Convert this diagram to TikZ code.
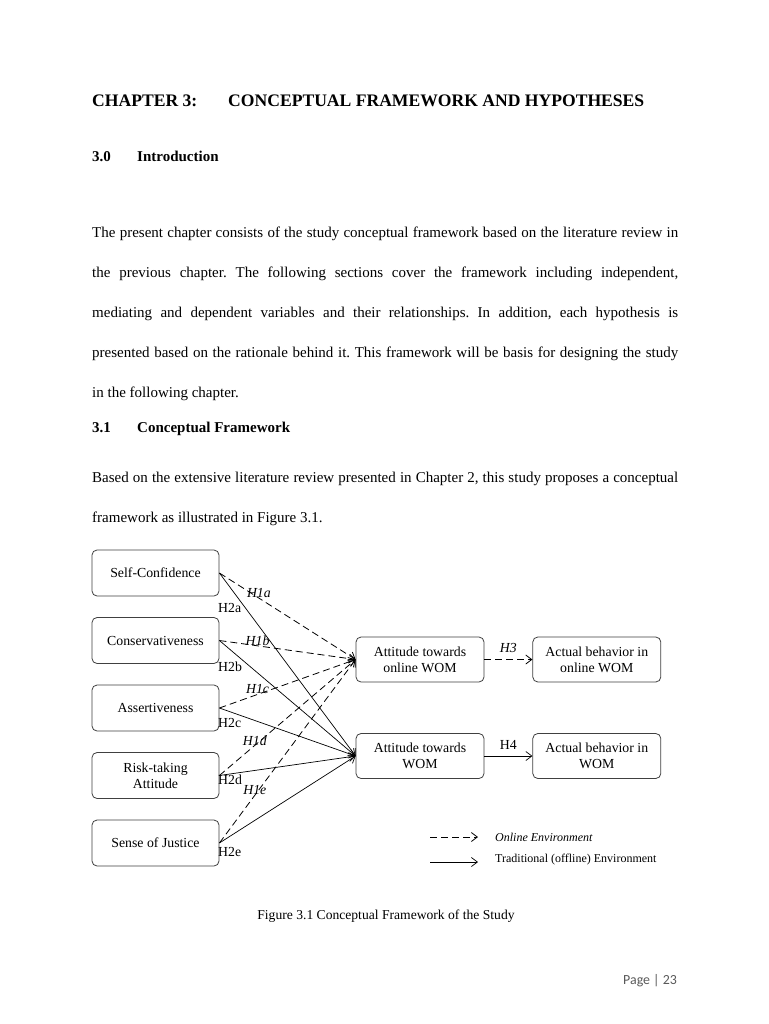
\documentclass[tikz,border=0pt]{standalone}
\usepackage{fontspec}
\setmainfont{Liberation Serif}
\newfontfamily\pagefont{Carlito}
\usetikzlibrary{positioning,arrows.meta}
\frenchspacing
\tikzset{varbox/.style={draw=black!75, rounded corners=5pt, line width=.8pt,
         minimum width=127pt, minimum height=46pt, align=center,
         font=\fontsize{13.8}{16}\selectfont, inner sep=1pt},
         online/.style={-{Straight Barb[length=6pt,width=9pt]}, dash pattern=on 7pt off 4pt, line width=.8pt},
         offline/.style={-{Straight Barb[length=6pt,width=9pt]}, line width=.7pt},
         hyp/.style={font=\fontsize{13.8}{16}\selectfont\itshape, inner sep=1pt, yshift=5pt},
         hyptwo/.style={font=\fontsize{13.8}{16}\selectfont, inner sep=1pt, anchor=west},
         bodytext/.style={anchor=base west, inner sep=0pt, font=\fontsize{15}{40}\selectfont}}

\begin{document}
\begin{tikzpicture}[x=1pt,y=-1pt]
      \useasboundingbox[fill=white] (0,0) rectangle (768,1024);

      % headings and text
      \node[bodytext, font=\fontsize{17.6}{20}\selectfont\bfseries] (chap) at (92,107) {CHAPTER 3:};
      \node[bodytext, font=\fontsize{17.6}{20}\selectfont\bfseries] (chaptitle) at (228,107) {CONCEPTUAL FRAMEWORK AND HYPOTHESES};
      \node[bodytext, font=\fontsize{15}{18}\selectfont\bfseries] (secnum) at (92,162) {3.0};
      \node[bodytext, font=\fontsize{15}{18}\selectfont\bfseries] (sectitle) at (137,162) {Introduction};
      \node[bodytext, anchor=north west, text width=586pt, align=justify] (intro) at (92,226.5)
        {The present chapter consists of the study conceptual framework based on the literature review in\linebreak
         the previous chapter. The following sections cover the framework including independent,\linebreak
         mediating and dependent variables and their relationships. In addition, each hypothesis is\linebreak
         presented based on the rationale behind it. This framework will be basis for designing the study\linebreak
         in the following chapter.};
      \node[bodytext, font=\fontsize{15}{18}\selectfont\bfseries] (subnum) at (92,432) {3.1};
      \node[bodytext, font=\fontsize{15}{18}\selectfont\bfseries] (subtitle) at (137,432) {Conceptual Framework};
      \node[bodytext, anchor=north west, text width=586pt, align=justify] (based) at (92,471.5)
        {Based on the extensive literature review presented in Chapter 2, this study proposes a conceptual\linebreak
         framework as illustrated in Figure 3.1.};

      % independent variables
      \node[varbox] (selfconf) at (155.5,573) {Self-Confidence};
      \node[varbox, below=20.7pt of selfconf] (conserv) {Conservativeness};
      \node[varbox, below=20.7pt of conserv] (assert) {Assertiveness};
      \node[varbox, below=20.7pt of assert] (risk) {Risk-taking\\Attitude};
      \node[varbox, below=20.7pt of risk] (justice) {Sense of Justice};

      % mediating and dependent variables
      \node[varbox, minimum width=128pt, minimum height=45pt] (attonline) at (420,659.5) {Attitude towards\\online WOM};
      \node[varbox, minimum width=128pt, minimum height=45pt] (attwom) at (420,756) {Attitude towards\\WOM};
      \node[varbox, minimum width=128pt, minimum height=45pt, right=48pt of attonline] (behonline) {Actual behavior in\\online WOM};
      \node[varbox, minimum width=128pt, minimum height=45pt, right=48pt of attwom] (behwom) {Actual behavior in\\WOM};

      % H1: online paths
      \draw[online] (selfconf.east) -- node[hyp, pos=.29] {H1a} (attonline.west);
      \draw[online] (conserv.east) -- node[hyp, pos=.28] {H1b} (attonline.west);
      \draw[online] (assert.east) -- node[hyp, pos=.28] {H1c} (attonline.west);
      \draw[online] (risk.east) -- node[hyp, pos=.26] {H1d} (attonline.west);
      \draw[online] (justice.east) -- node[hyp, pos=.26] {H1e} (attonline.west);

      % H2: offline paths
      \draw[offline] (selfconf.east) -- (attwom.west);
      \draw[offline] (conserv.east) -- (attwom.west);
      \draw[offline] (assert.east) -- (attwom.west);
      \draw[offline] (risk.east) -- (attwom.west);
      \draw[offline] (justice.east) -- (attwom.west);
      \node[hyptwo] (h2a) at (217,608) {H2a};
      \node[hyptwo] (h2b) at (217,667) {H2b};
      \node[hyptwo] (h2c) at (217,723) {H2c};
      \node[hyptwo] (h2d) at (217,780) {H2d};
      \node[hyptwo] (h2e) at (217,852) {H2e};

      \draw[online] (attonline) -- node[hyp, above, yshift=0pt] {H3} (behonline);
      \draw[offline] (attwom) -- node[hyp, above, yshift=0pt, font=\fontsize{13.8}{16}\selectfont] {H4} (behwom);

      % legend
      \coordinate (lgonA) at (430,837);
      \coordinate (lgonB) at (478,837);
      \coordinate (lgoffA) at (430,862);
      \coordinate (lgoffB) at (478,862);
      \draw[online] (lgonA) -- (lgonB);
      \draw[offline] (lgoffA) -- (lgoffB);
      \node[anchor=west, inner sep=0pt, font=\fontsize{12}{14}\selectfont\itshape] (lgon) at (495,837) {Online Environment};
      \node[anchor=west, inner sep=0pt, font=\fontsize{12}{14}\selectfont] (lgoff) at (495,860) {Traditional (offline) Environment};

      % caption and page number
      \node[bodytext, anchor=base, font=\fontsize{13.6}{16}\selectfont] (caption) at (386,919) {Figure 3.1 Conceptual Framework of the Study};
      \node[bodytext, font=\pagefont\fontsize{13.9}{16}\selectfont, text=black!65] (pagenum) at (623,984) {Page | 23};
    \end{tikzpicture}
\end{document}
